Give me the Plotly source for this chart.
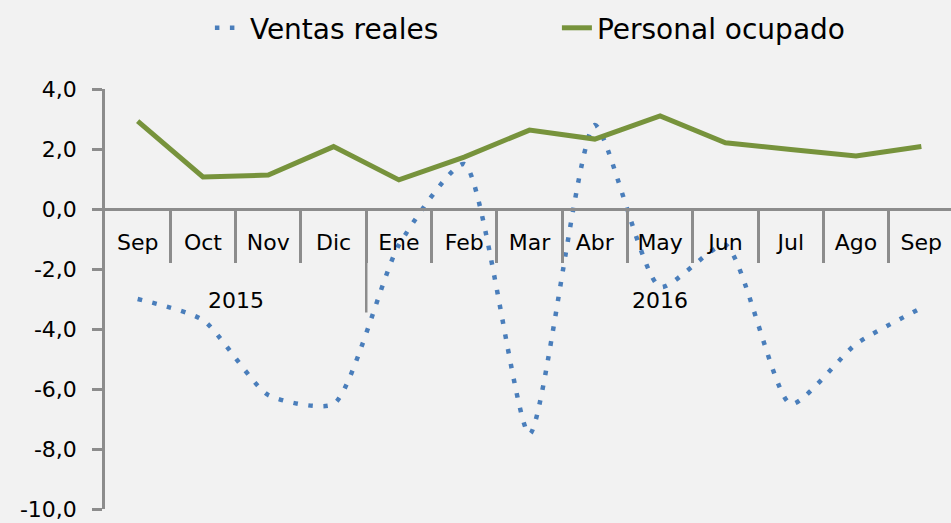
import plotly.graph_objects as go

months = ["Sep", "Oct", "Nov", "Dic", "Ene", "Feb", "Mar", "Abr", "May", "Jun", "Jul", "Ago", "Sep"]
years = ["2015", "2016"]
year_spans = [(0, 3), (4, 12)]
ventas_reales = [-3.0, -3.7, -6.2, -6.5, -1.2, 1.5, -7.5, 2.8, -2.6, -1.2, -6.5, -4.5, -3.3]
personal_ocupado = [2.93, 1.07, 1.13, 2.08, 0.97, 1.73, 2.63, 2.33, 3.1, 2.21, 1.98, 1.77, 2.08]
y_ticks = [4, 2, 0, -2, -4, -6, -8, -10]
y_tick_labels = ["4,0", "2,0", "0,0", "-2,0", "-4,0", "-6,0", "-8,0", "-10,0"]

BLUE = "#4a7ebb"
GREEN = "#77933c"
AXIS = "#8c8c8c"
BG = "#f2f2f2"
FONT = "DejaVu Sans"

x = list(range(len(months)))
y_min, y_max = -10, 4
zero_pos = (0 - y_min) / (y_max - y_min)

fig = go.Figure()
fig.add_trace(go.Scatter(
    x=x, y=ventas_reales, name="Ventas reales", mode="lines",
    line=dict(color=BLUE, width=4.5, dash="4.5px,10.5px", shape="spline", smoothing=0.6),
    xaxis="x", yaxis="y",
))
fig.add_trace(go.Scatter(
    x=x, y=personal_ocupado, name="Personal ocupado", mode="lines",
    line=dict(color=GREEN, width=5),
    xaxis="x", yaxis="y",
))

shapes = []
for start, end in year_spans[1:]:
    shapes.append(dict(type="line", xref="x", yref="y", x0=start - 0.5, x1=start - 0.5,
                       y0=0, y1=-3.45, line=dict(color=AXIS, width=2.5), layer="below"))

annotations = []
for (start, end), label in zip(year_spans, years):
    annotations.append(dict(x=(start + end) / 2, y=-3.05, xref="x", yref="y", text=label,
                            showarrow=False, font=dict(family=FONT, size=22, color="#000000")))

x_range = [-0.5, 12.454]

fig.update_layout(
    width=951, height=523,
    paper_bgcolor=BG, plot_bgcolor=BG,
    margin=dict(l=105, r=0, t=89, b=14),
    font=dict(family=FONT, size=22, color="#000000"),
    showlegend=True,
    legend=dict(orientation="h", x=0.124, xanchor="left", y=1.145, yanchor="middle",
                font=dict(family=FONT, size=28, color="#000000"),
                bgcolor="rgba(0,0,0,0)", entrywidth=302, entrywidthmode="pixels"),
    xaxis=dict(range=x_range, anchor="free", position=zero_pos, showgrid=False, zeroline=False,
               showline=True, linecolor=AXIS, linewidth=2.5,
               tickmode="array", tickvals=x, ticktext=months,
               ticks="outside", ticklen=13, tickcolor="rgba(0,0,0,0)",
               tickfont=dict(family=FONT, size=22, color="#000000")),
    xaxis2=dict(range=x_range, overlaying="x", anchor="free", position=zero_pos,
                showgrid=False, zeroline=False, showline=False,
                tickmode="array", tickvals=[i - 0.5 for i in range(1, len(months) + 1)],
                ticks="outside", ticklen=53, tickwidth=2.5, tickcolor=AXIS,
                showticklabels=False, side="bottom"),
    yaxis=dict(range=[y_min, y_max], showgrid=False, zeroline=False,
               showline=True, linecolor=AXIS, linewidth=2.5,
               tickmode="array", tickvals=y_ticks, ticktext=y_tick_labels,
               ticks="outside", ticklen=10, tickwidth=2.5, tickcolor=AXIS,
               ticklabelstandoff=11,
               tickfont=dict(family=FONT, size=22, color="#000000")),
    shapes=shapes,
    annotations=annotations,
)

fig.add_trace(go.Scatter(x=[x[0]], y=[0], xaxis="x2", yaxis="y", mode="markers",
                         marker=dict(opacity=0), showlegend=False, hoverinfo="skip"))

fig.write_html("out.html")
